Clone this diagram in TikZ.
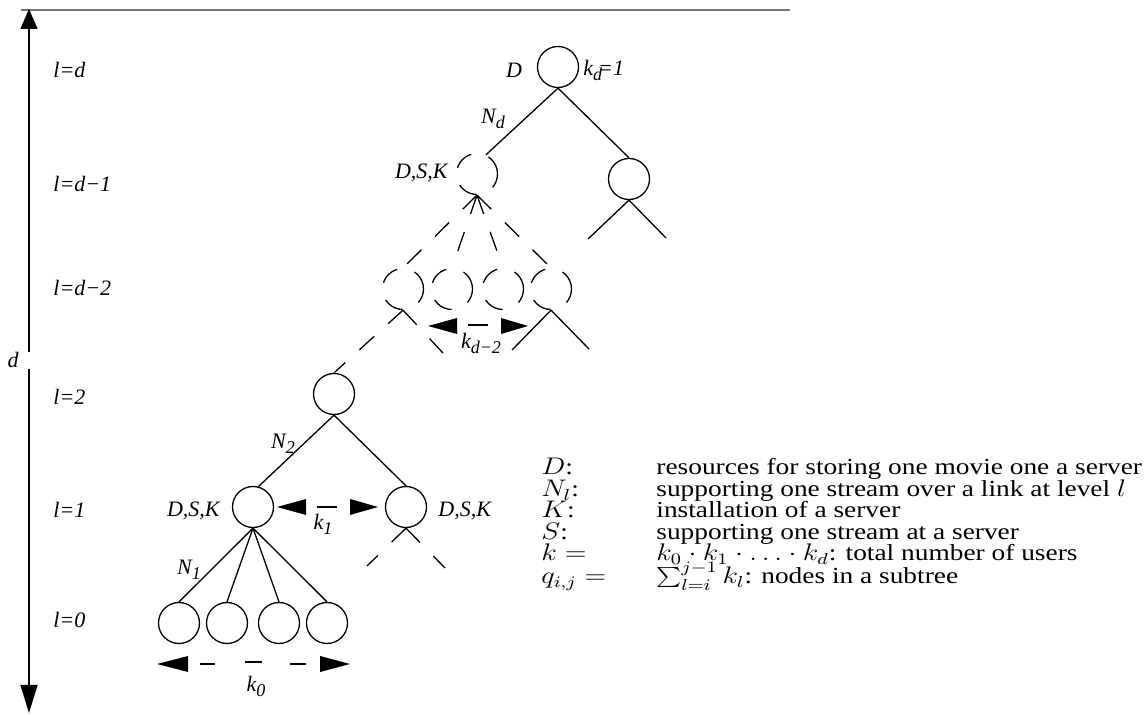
\documentclass[tikz,border=0pt]{standalone}
\usepackage{fontspec}
\setmainfont{Liberation Serif}
\usetikzlibrary{arrows.meta}
% lowered subscript for italic text labels
\newcommand\lsub[1]{\raisebox{-0.5ex}{\fontsize{9}{10}\selectfont #1}}
% legend lines are set slightly wide
\newcommand\widetext[1]{\scalebox{1.19}[1]{#1}}
\begin{document}
\begin{tikzpicture}[x=0.5pt,y=-0.5pt,
  every node/.style={font=\fontsize{11}{13}\selectfont\itshape,inner sep=0pt},
  vtx/.style={circle,draw,line width=0.65pt,minimum size=20.5pt,inner sep=0pt},
  dvtx/.style={vtx,dash pattern=on 10pt off 9pt},
  edge/.style={line width=0.65pt},
  dedge/.style={edge,dash pattern=on 10pt off 9.5pt},
  lvl/.style={anchor=west},
  legend/.style={anchor=base west,font=\fontsize{11.5}{13}\selectfont\upshape},
  dimtip/.style={fill=black},
]
\useasboundingbox (0,0) rectangle (1146,715);

% depth axis
\coordinate (hl) at (21,10);
\coordinate (hr) at (790,10);
\draw[line width=1pt,black!55] (hl) -- (hr);
\coordinate (axtop) at (29,9);
\coordinate (axup) at (29,352);
\coordinate (axdn) at (29,369);
\coordinate (axbot) at (29,713);
\draw[edge,-{Triangle[length=10pt,width=8.5pt]}] (axup) -- (axtop);
\draw[edge,-{Triangle[length=14pt,width=8.5pt]}] (axdn) -- (axbot);
\node (dlab) at (13,360) {d};

% level labels
\node[lvl] (l0) at (53,70) {l=d};
\node[lvl] (l1) at (53,184) {l=d−1};
\node[lvl] (l2) at (53,288) {l=d−2};
\node[lvl] (l3) at (53,397) {l=2};
\node[lvl] (l4) at (53,510) {l=1};
\node[lvl] (l5) at (53,620) {l=0};

% tree nodes
\node[vtx] (root) at (558,67) {};
\node[dvtx] (dsk) at (477,174) {};
\node[vtx] (rc) at (629,179) {};
\node[dvtx] (c1) at (403,289) {};
\node[dvtx] (c2) at (452,289) {};
\node[dvtx] (c3) at (503,289) {};
\node[dvtx] (c4) at (551,289) {};
\node[vtx] (two) at (334,394) {};
\node[vtx] (oa) at (253,507) {};
\node[vtx] (ob) at (406,507) {};
\node[vtx] (f1) at (179,623) {};
\node[vtx] (f2) at (227,623) {};
\node[vtx] (f3) at (279,623) {};
\node[vtx] (f4) at (327,623) {};

% free ends of cut branches
\coordinate (rcl) at (588,239);
\coordinate (rcr) at (666,238);
\coordinate (c1r) at (443,353);
\coordinate (c4l) at (512,350);
\coordinate (c4r) at (589,349);
\coordinate (obl) at (367,566);
\coordinate (obr) at (445,568);

% edges
\draw[edge] (root.south) -- (dsk.65);
\draw[edge] (root.south) -- (rc.north);
\draw[edge] (rc.south) -- (rcl);
\draw[edge] (rc.south) -- (rcr);
\draw[dedge] (dsk.south) -- (c1.north);
\draw[dedge] (dsk.south) -- (c2.north);
\draw[dedge] (dsk.south) -- (c3.north);
\draw[dedge] (dsk.south) -- (c4.north);
\draw[dedge] (c1.south) -- (two.north);
\draw[dedge] (c1.south) -- (c1r);
\draw[edge] (c4.south) -- (c4l);
\draw[edge] (c4.south) -- (c4r);
\draw[edge] (two.south) -- (oa.75);
\draw[edge] (two.south) -- (ob.north);
\draw[dedge] (ob.south) -- (obl);
\draw[dedge] (ob.south) -- (obr);
\draw[edge] (oa.south) -- (f1.north);
\draw[edge] (oa.south) -- (f2.north);
\draw[edge] (oa.south) -- (f3.north);
\draw[edge] (oa.south) -- (f4.north);

% node labels
\node (tD) at (514,70) {D};
\node[anchor=west] (tkd) at (583,70) {k\lsub{d}\kern-2pt=1};
\node (tNd) at (493,119) {N\lsub{d}};
\node[anchor=east] (tdsk1) at (448,173) {D,S,K};
\node (tN2) at (283,444) {N\lsub{2}};
\node[anchor=east] (tdsk2) at (220,511) {D,S,K};
\node[anchor=west] (tdsk3) at (438,511) {D,S,K};
\node (tN1) at (189,570) {N\lsub{1}};

% width marks
\coordinate (kaL) at (428,326); \coordinate (kaR) at (528,326);
\fill[dimtip] (kaL) -- ++(29,-8) -- ++(0,16) -- cycle;
\fill[dimtip] (kaR) -- ++(-27,-8) -- ++(0,16) -- cycle;
\draw[edge] (468,325) -- (488,325);
\node (tkd2) at (481,343) {k\lsub{d−2}};

\coordinate (kbL) at (277,507); \coordinate (kbR) at (378,507);
\fill[dimtip] (kbL) -- ++(29,-8) -- ++(0,16) -- cycle;
\fill[dimtip] (kbR) -- ++(-28,-8) -- ++(0,16) -- cycle;
\draw[edge] (317,507) -- (337,507);
\node (tk1) at (323,524) {k\lsub{1}};

\coordinate (kcL) at (157,664); \coordinate (kcR) at (350,664);
\fill[dimtip] (kcL) -- ++(31,-8) -- ++(0,16) -- cycle;
\fill[dimtip] (kcR) -- ++(-30,-8) -- ++(0,16) -- cycle;
\draw[edge] (200,664) -- (215,664);
\draw[edge] (245,662) -- (262,662);
\draw[edge] (290,664) -- (306,664);
\node (tk0) at (256,686) {k\lsub{0}};

% legend
\node[legend] (s1) at (541,475) {\widetext{$D$:}};
\node[legend] (d1) at (656,475) {\widetext{resources for storing one movie one a server}};
\node[legend] (s2) at (541,497) {\widetext{$N_l$:}};
\node[legend] (d2) at (656,497) {\widetext{supporting one stream over a link at level $l$}};
\node[legend] (s3) at (541,518) {\widetext{$K$:}};
\node[legend] (d3) at (656,518) {\widetext{installation of a server}};
\node[legend] (s4) at (541,540) {\widetext{$S$:}};
\node[legend] (d4) at (656,540) {\widetext{supporting one stream at a server}};
\node[legend] (s5) at (541,561) {\widetext{$k =$}};
\node[legend] (d5) at (656,561) {\widetext{$k_0\cdot k_1\cdot\ldots\cdot k_d$: total number of users}};
\node[legend] (s6) at (541,584) {\widetext{$q_{i,j} =$}};
\node[legend] (d6) at (656,584) {\widetext{$\sum_{l=i}^{j-1} k_l$: nodes in a subtree}};
\end{tikzpicture}
\end{document}
